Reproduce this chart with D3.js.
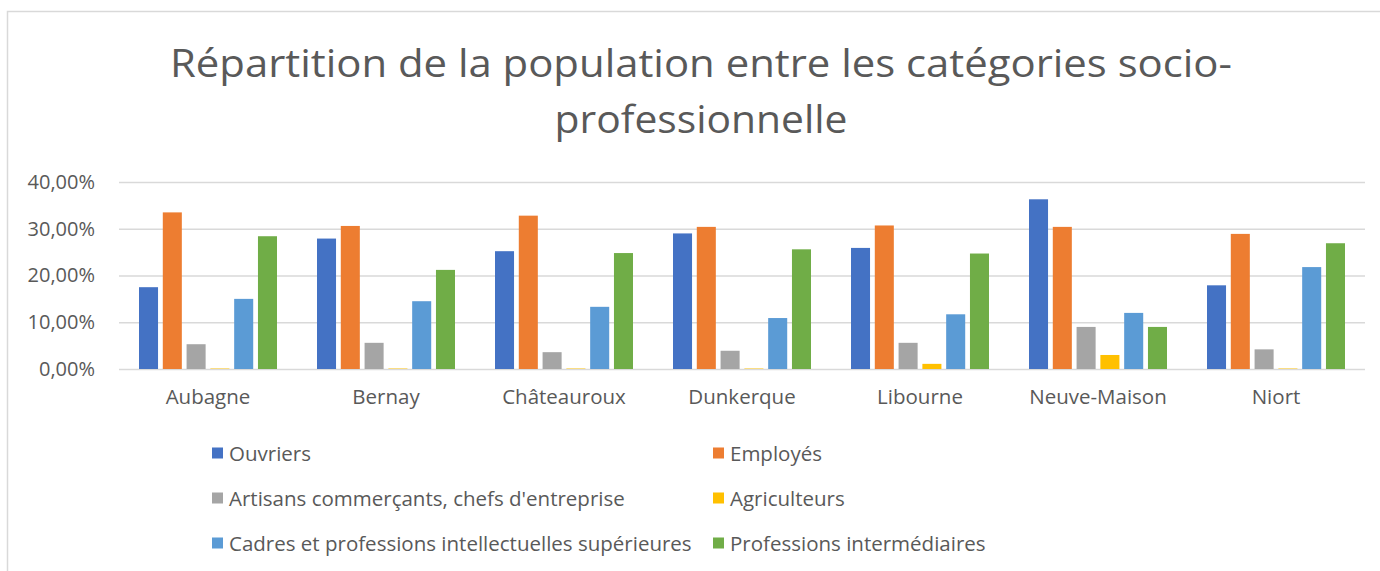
<!DOCTYPE html>
<meta charset="utf-8">

<head>
  <title>Catégories socio-professionnelles</title>
</head>

<style>
  body { margin: 0; background: #fff; }
  text { font-family: "Open Sans", sans-serif; fill: #595959; }
</style>

<body>
  <svg width="1380" height="571"></svg>

  <script src="https://cdn.jsdelivr.net/npm/d3@7"></script>
  <script>
    var villes = ['Aubagne', 'Bernay', 'Châteauroux', 'Dunkerque', 'Libourne', 'Neuve-Maison', 'Niort'];
    var categories = ['Ouvriers', 'Employés', 'Artisans commerçants, chefs d\'entreprise', 'Agriculteurs',
      'Cadres et professions intellectuelles supérieures', 'Professions intermédiaires'];
    var colors = ['#4472C4', '#ED7D31', '#A5A5A5', '#FFC000', '#5B9BD5', '#70AD47'];

    // valeurs en %, une liste par catégorie (dans l'ordre des villes)
    var ouvriers = [17.5, 27.9, 25.2, 29.0, 25.9, 36.3, 17.9];
    var employes = [33.5, 30.6, 32.8, 30.4, 30.7, 30.4, 28.9];
    var artisans = [5.3, 5.6, 3.6, 3.9, 5.6, 9.0, 4.2];
    var agriculteurs = [0.1, 0.1, 0.1, 0.1, 1.1, 3.0, 0.1];
    var cadres = [15.0, 14.5, 13.3, 10.9, 11.7, 12.0, 21.8];
    var intermediaires = [28.4, 21.2, 24.8, 25.6, 24.7, 9.0, 26.9];
    var series = [ouvriers, employes, artisans, agriculteurs, cadres, intermediaires];

    var yTicks = [0, 10, 20, 30, 40];

    var svg = d3.select('svg');

    // cadre du graphique
    svg.append('rect')
      .attr('x', 7.5).attr('y', 11.5)
      .attr('width', 1400).attr('height', 600)
      .attr('fill', 'none')
      .attr('stroke', '#D9D9D9')
      .attr('stroke-width', 1.5);

    // titre
    var title = svg.append('text')
      .attr('text-anchor', 'middle')
      .style('font-size', '38px');
    title.append('tspan').attr('x', 701).attr('y', 77)
      .attr('textLength', 1062).attr('lengthAdjust', 'spacingAndGlyphs')
      .text('Répartition de la population entre les catégories socio-');
    title.append('tspan').attr('x', 701).attr('y', 133)
      .attr('textLength', 293).attr('lengthAdjust', 'spacingAndGlyphs')
      .text('professionnelle');

    var plotLeft = 119, plotRight = 1365, plotTop = 182, plotBottom = 369;

    var x0 = d3.scaleBand().domain(villes).range([plotLeft, plotRight]);
    var x1 = d3.scaleBand().domain(d3.range(categories.length))
      .range([20, x0.bandwidth() - 20]).paddingInner(0.2);
    var y = d3.scaleLinear().domain([0, 40]).range([plotBottom, plotTop]);

    // grille + étiquettes de l'axe Y
    var yAxis = svg.append('g')
      .attr('class', 'left-axis')
      .attr('transform', 'translate(' + plotLeft + ',0)')
      .call(d3.axisLeft(y).tickValues(yTicks).tickSize(-(plotRight - plotLeft)).tickPadding(24)
        .tickFormat(function (d) { return d3.format('.2f')(d).replace('.', ',') + '%'; }));
    yAxis.select('.domain').remove();
    yAxis.selectAll('.tick line').attr('stroke', '#D9D9D9').attr('stroke-width', 1.5);
    yAxis.selectAll('.tick text').style('font-size', '20px').attr('fill', '#595959');

    // barres
    svg.append('g')
      .selectAll('g')
      .data(villes)
      .enter()
      .append('g')
      .attr('transform', function (d) { return 'translate(' + x0(d) + ',0)'; })
      .selectAll('rect')
      .data(function (d, vi) { return series.map(function (s, si) { return { si: si, v: s[vi] }; }); })
      .enter()
      .append('rect')
      .attr('x', function (d) { return x1(d.si); })
      .attr('width', x1.bandwidth())
      .attr('y', function (d) { return y(d.v); })
      .attr('height', function (d) { return plotBottom - y(d.v); })
      .attr('fill', function (d) { return colors[d.si]; });

    // étiquettes des villes
    var xAxis = svg.append('g')
      .attr('class', 'bottom-axis')
      .attr('transform', 'translate(0,' + plotBottom + ')')
      .call(d3.axisBottom(x0).tickSize(0).tickPadding(20));
    xAxis.select('.domain').remove();
    xAxis.selectAll('.tick text').style('font-size', '20.5px').attr('fill', '#595959');

    // légende
    var legendX = [212, 713];
    var legendY = [453, 498, 543];
    var legend = svg.append('g')
      .selectAll('g')
      .data(categories)
      .enter()
      .append('g')
      .attr('transform', function (d, i) {
        return 'translate(' + legendX[i % 2] + ',' + legendY[Math.floor(i / 2)] + ')';
      });
    legend.append('rect')
      .attr('x', 0).attr('y', -5.5)
      .attr('width', 11).attr('height', 11)
      .attr('fill', function (d, i) { return colors[i]; });
    legend.append('text')
      .attr('x', 17).attr('y', 7.5)
      .style('font-size', '20.5px')
      .text(function (d) { return d; });
  </script>
</body>

</html>
